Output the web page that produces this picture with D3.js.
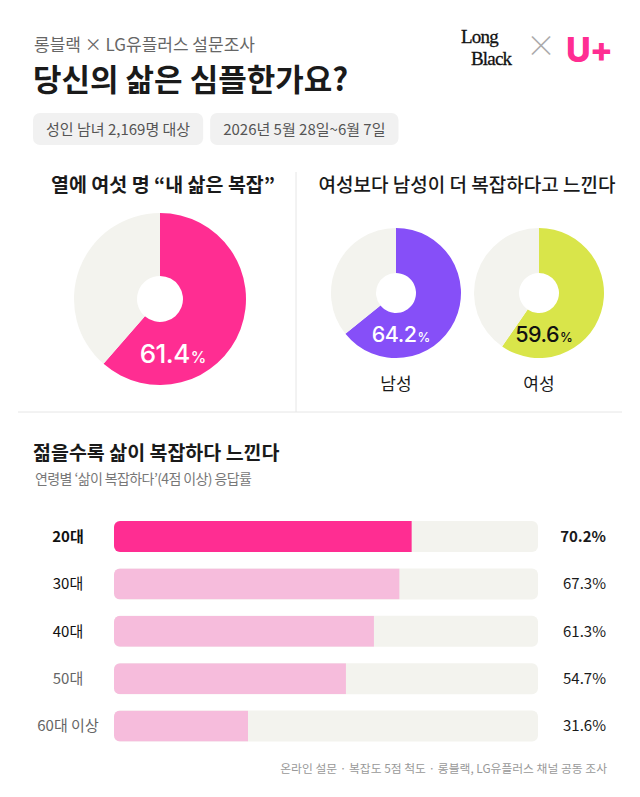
<!DOCTYPE html>
<html>
<head>
<meta charset="utf-8">
<script src="https://cdn.jsdelivr.net/npm/d3@7"></script>
<style>
  body { margin: 0; background: #fff; }
  svg { display: block; font-family: "Noto Sans CJK KR", "Noto Sans", sans-serif; }
</style>
</head>
<body>
<div id="content"></div>
<script>
const svgWidth = 640, svgHeight = 797;

// data
const overallValue = 61.4;
const genders = ["남성", "여성"];
const genderValues = [64.2, 59.6];
const ageGroups = ["20대", "30대", "40대", "50대", "60대 이상"];
const ageValues = [70.2, 67.3, 61.3, 54.7, 31.6];
const badges = ["성인 남녀 2,169명 대상", "2026년 5월 28일~6월 7일"];

const pink = "#ff2d92", lightPink = "#f6bcdc", track = "#f3f3ee";
const purple = "#864ff8", lime = "#d9e54a";

const svg = d3.select("#content").append("svg")
  .attr("width", svgWidth)
  .attr("height", svgHeight);

// header
svg.append("text").attr("x", 34).attr("y", 51)
  .attr("font-size", 17).attr("fill", "#666")
  .text("롱블랙 × LG유플러스 설문조사");
svg.append("text").attr("x", 33).attr("y", 91)
  .attr("font-size", 31).attr("font-weight", 700).attr("fill", "#1a1a1a")
  .text("당신의 삶은 심플한가요?");

// badges
let bx = 33;
badges.forEach(b => {
  const g = svg.append("g");
  const t = g.append("text").attr("x", bx + 13).attr("y", 135)
    .attr("font-size", 15).attr("fill", "#555").text(b);
  const w = t.node().getComputedTextLength() + 26;
  g.insert("rect", "text").attr("x", bx).attr("y", 113)
    .attr("width", w).attr("height", 32).attr("rx", 7).attr("fill", "#f1f1f1");
  bx += w + 7;
});

// logo
const logo = svg.append("text")
  .attr("font-family", "Liberation Serif, serif").attr("font-size", 19)
  .attr("letter-spacing", -0.8).attr("fill", "#111").attr("stroke", "#111").attr("stroke-width", 0.3);
logo.append("tspan").attr("x", 461).attr("y", 43).text("Long");
logo.append("tspan").attr("x", 471).attr("y", 64.5).text("Black");
svg.append("text").attr("x", 541).attr("y", 56).attr("text-anchor", "middle")
  .attr("font-size", 30).attr("font-weight", 300).attr("fill", "#aaa").text("×");
svg.append("text").attr("x", 566).attr("y", 62)
  .attr("font-family", "Inter, sans-serif").attr("font-size", 34).attr("font-weight", 800)
  .attr("fill", pink).attr("letter-spacing", -1).text("U+");

// dividers
svg.append("line").attr("x1", 296).attr("x2", 296).attr("y1", 172).attr("y2", 412)
  .attr("stroke", "#e6e6e6");
svg.append("line").attr("x1", 18).attr("x2", 622).attr("y1", 412).attr("y2", 412)
  .attr("stroke", "#e6e6e6");

// donut helper
const pie = d3.pie().sort(null).value(d => d);
const drawDonut = (cx, cy, rOut, rIn, value, color, labelColor, labelSize, labelDx, labelDy) => {
  const g = svg.append("g").attr("transform", `translate(${cx},${cy})`);
  const arc = d3.arc().innerRadius(rIn).outerRadius(rOut);
  g.selectAll("path").data(pie([value, 100 - value])).enter().append("path")
    .attr("d", arc)
    .attr("fill", (d, i) => i === 0 ? color : track);
  const t = g.append("text").attr("x", labelDx).attr("y", labelDy).attr("text-anchor", "middle")
    .attr("fill", labelColor).attr("font-family", "Inter, sans-serif").attr("font-weight", 500);
  t.append("tspan").attr("font-size", labelSize).attr("letter-spacing", -0.5).text(value.toFixed(1));
  t.append("tspan").attr("font-size", labelSize * 0.6).attr("dx", 1).text("%");
  return g;
};

// left panel
svg.append("text").attr("x", 163).attr("y", 192).attr("text-anchor", "middle")
  .attr("font-size", 19.5).attr("font-weight", 700).attr("fill", "#1a1a1a")
  .text("열에 여섯 명 “내 삶은 복잡”");
drawDonut(160, 299, 86, 23, overallValue, pink, "#fff", 26, 13, 64);

// right panel
svg.append("text").attr("x", 467).attr("y", 192).attr("text-anchor", "middle")
  .attr("font-size", 19).attr("font-weight", 500).attr("fill", "#1a1a1a")
  .text("여성보다 남성이 더 복잡하다고 느낀다");
const gx = d3.scalePoint().domain(genders).range([396, 539]);
genders.forEach((gname, i) => {
  drawDonut(gx(gname), 293, 65, 20, genderValues[i], i === 0 ? purple : lime,
    i === 0 ? "#fff" : "#111", 21.5, 5, 49);
  svg.append("text").attr("x", gx(gname)).attr("y", 390).attr("text-anchor", "middle")
    .attr("font-size", 17).attr("fill", "#1a1a1a").text(gname);
});

// bottom section
svg.append("text").attr("x", 33).attr("y", 460)
  .attr("font-size", 19.5).attr("font-weight", 700).attr("fill", "#1a1a1a")
  .text("젊을수록 삶이 복잡하다 느낀다");
svg.append("text").attr("x", 35).attr("y", 484)
  .attr("font-size", 14).attr("fill", "#777").attr("letter-spacing", -0.6)
  .text("연령별 ‘삶이 복잡하다’(4점 이상) 응답률");

const x = d3.scaleLinear().domain([0, 100]).range([114, 538]);
const y = d3.scaleBand().domain(ageGroups).range([521, 741.6]).paddingInner(0.346);
const labelColors = ["#111", "#111", "#111", "#666", "#666"];
const labelWeights = [700, 400, 400, 400, 400];

const defs = svg.append("defs");
ageGroups.forEach((a, i) => {
  defs.append("clipPath").attr("id", "clip" + i)
    .append("rect").attr("x", x(0)).attr("y", y(a))
    .attr("width", x(100) - x(0)).attr("height", y.bandwidth()).attr("rx", 6);
});

const rows = svg.selectAll("g.row").data(ageGroups).enter().append("g").attr("class", "row");
rows.append("rect")
  .attr("x", x(0)).attr("y", d => y(d))
  .attr("width", x(100) - x(0)).attr("height", y.bandwidth())
  .attr("rx", 6).attr("fill", track);
rows.append("rect")
  .attr("clip-path", (d, i) => `url(#clip${i})`)
  .attr("x", x(0)).attr("y", d => y(d))
  .attr("width", (d, i) => x(ageValues[i]) - x(0)).attr("height", y.bandwidth())
  .attr("fill", (d, i) => i === 0 ? pink : lightPink);
rows.append("text")
  .attr("x", 68).attr("y", d => y(d) + y.bandwidth() / 2).attr("dy", "0.35em")
  .attr("text-anchor", "middle").attr("font-size", 15)
  .attr("font-weight", (d, i) => labelWeights[i])
  .attr("fill", (d, i) => labelColors[i]).text(d => d);
rows.append("text")
  .attr("x", 606).attr("y", d => y(d) + y.bandwidth() / 2).attr("dy", "0.35em")
  .attr("text-anchor", "end").attr("font-size", 15)
  .attr("font-weight", (d, i) => i === 0 ? 700 : 400)
  .attr("fill", "#1a1a1a").text((d, i) => ageValues[i].toFixed(1) + "%");

// footer
svg.append("text").attr("x", 607).attr("y", 773).attr("text-anchor", "end")
  .attr("font-size", 11.8).attr("fill", "#999")
  .text("온라인 설문 · 복잡도 5점 척도 · 롱블랙, LG유플러스 채널 공동 조사");
</script>
</body>
</html>
